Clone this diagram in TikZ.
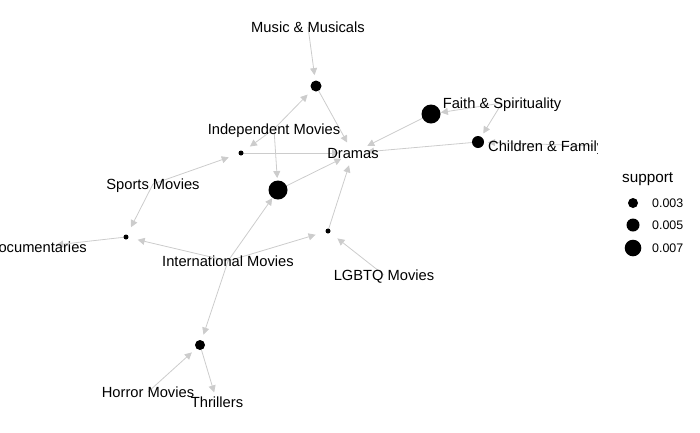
\documentclass[tikz,border=0pt]{standalone}
\usepackage{fontspec}
\setmainfont{Liberation Sans}
\usepackage{xcolor}
\usetikzlibrary{calc, arrows.meta, backgrounds}

\definecolor{edgegray}{RGB}{204,204,204}

\begin{document}
\begin{tikzpicture}[x=1pt, y=-1pt,
    item/.style={inner sep=0pt, text height=10.6pt, text depth=0pt, font=\fontsize{14.7}{17}\selectfont},
    rule/.style={circle, fill=black, inner sep=0pt, minimum size=#1},
    edge/.style={draw=edgegray, line width=0.8pt, -{Triangle[length=7pt, width=7pt]}, shorten >=#1},
    legtext/.style={anchor=west, inner sep=0pt, text height=9pt, text depth=0pt, font=\fontsize{12.4}{14}\selectfont}]

        \useasboundingbox (0,0) rectangle (700,432);

        \begin{scope}
        \clip (-50,0) rectangle (597,432);

        %% Items
        \node (music) [item] at (308,27) {Music \& Musicals};
        \node (indep) [item] at (274,129) {Independent Movies};
        \node (dramas) [item] at (353,153) {Dramas};
        \node (faith) [item] at (502,103) {Faith \& Spirituality};
        \node (children) [item, anchor=west] at (488,146) {Children \& Family};
        \node (sports) [item] at (153,184) {Sports Movies};
        \node (docu) [item, anchor=east] at (87,247) {Documentaries};
        \node (intl) [item] at (228,261) {International Movies};
        \node (lgbtq) [item] at (384,275) {LGBTQ Movies};
        \node (horror) [item] at (148,392) {Horror Movies};
        \node (thrillers) [item] at (217,402) {Thrillers};
        \coordinate (chf) at (594,146);

        %% Rules
        \node (rA) [rule=11pt] at (316,86) {};
        \node (rB) [rule=5pt] at (241,153) {};
        \node (rC) [rule=19pt] at (278,190) {};
        \node (rD) [rule=19pt] at (431,114) {};
        \node (rE) [rule=12pt] at (478,142) {};
        \node (rF) [rule=5pt] at (126,237) {};
        \node (rG) [rule=5pt] at (328,231) {};
        \node (rH) [rule=10pt] at (200,345) {};

        %% Edges, under the items and rules
        \begin{pgfonlayer}{background}
        \path (music.center) edge [edge=11pt] (rA.center);
        \path (indep.center) edge [edge=12pt] (rA.center);
        \path (indep.center) edge [edge=11pt] (rB.center);
        \path (indep.center) edge [edge=12pt] (rC.center);
        \path (rA.center) edge [edge=12pt] (dramas.center);
        \path (rB.center) edge [edge=14pt] (dramas.center);
        \path (sports.center) edge [edge=13pt] (rB.center);
        \path (sports.center) edge [edge=11pt] (rF.center);
        \path (rF.center) edge [edge=19pt] (docu.center);
        \path (intl.center) edge [edge=12pt] (rF.center);
        \path (intl.center) edge [edge=13pt] (rG.center);
        \path (intl.center) edge [edge=10pt] (rC.center);
        \path (intl.center) edge [edge=11pt] (rH.center);
        \path (rC.center) edge [edge=13pt] (dramas.center);
        \path (rG.center) edge [edge=13pt] (dramas.center);
        \path (lgbtq.center) edge [edge=12pt] (rG.center);
        \path (horror.center) edge [edge=11pt] (rH.center);
        \path (rH.center) edge [edge=10pt] (thrillers.center);
        \path (faith.center) edge [edge=10pt] (rD.center);
        \path (faith.center) edge [edge=10pt] (rE.center);
        \path (rD.center) edge [edge=16pt] (dramas.center);
        \path (rE.center) edge [edge=14pt] (dramas.center);
        \path (chf) edge [edge=10pt] (rE.center);
        \end{pgfonlayer}
        \end{scope}

        %% Legend
        \node (legtitle) [anchor=west, inner sep=0pt, text height=11pt, text depth=0pt, font=\fontsize{15.3}{18}\selectfont] at (622,177) {support};
        \node (lsA) [rule=10pt] at (633,203) {};
        \node (lsB) [rule=13pt] at (633,225) {};
        \node (lsC) [rule=16.6pt] at (633,248) {};
        \node (ltA) [legtext] at (652,203) {0.003};
        \node (ltB) [legtext] at (652,225) {0.005};
        \node (ltC) [legtext] at (652,248) {0.007};

    \end{tikzpicture}
\end{document}
